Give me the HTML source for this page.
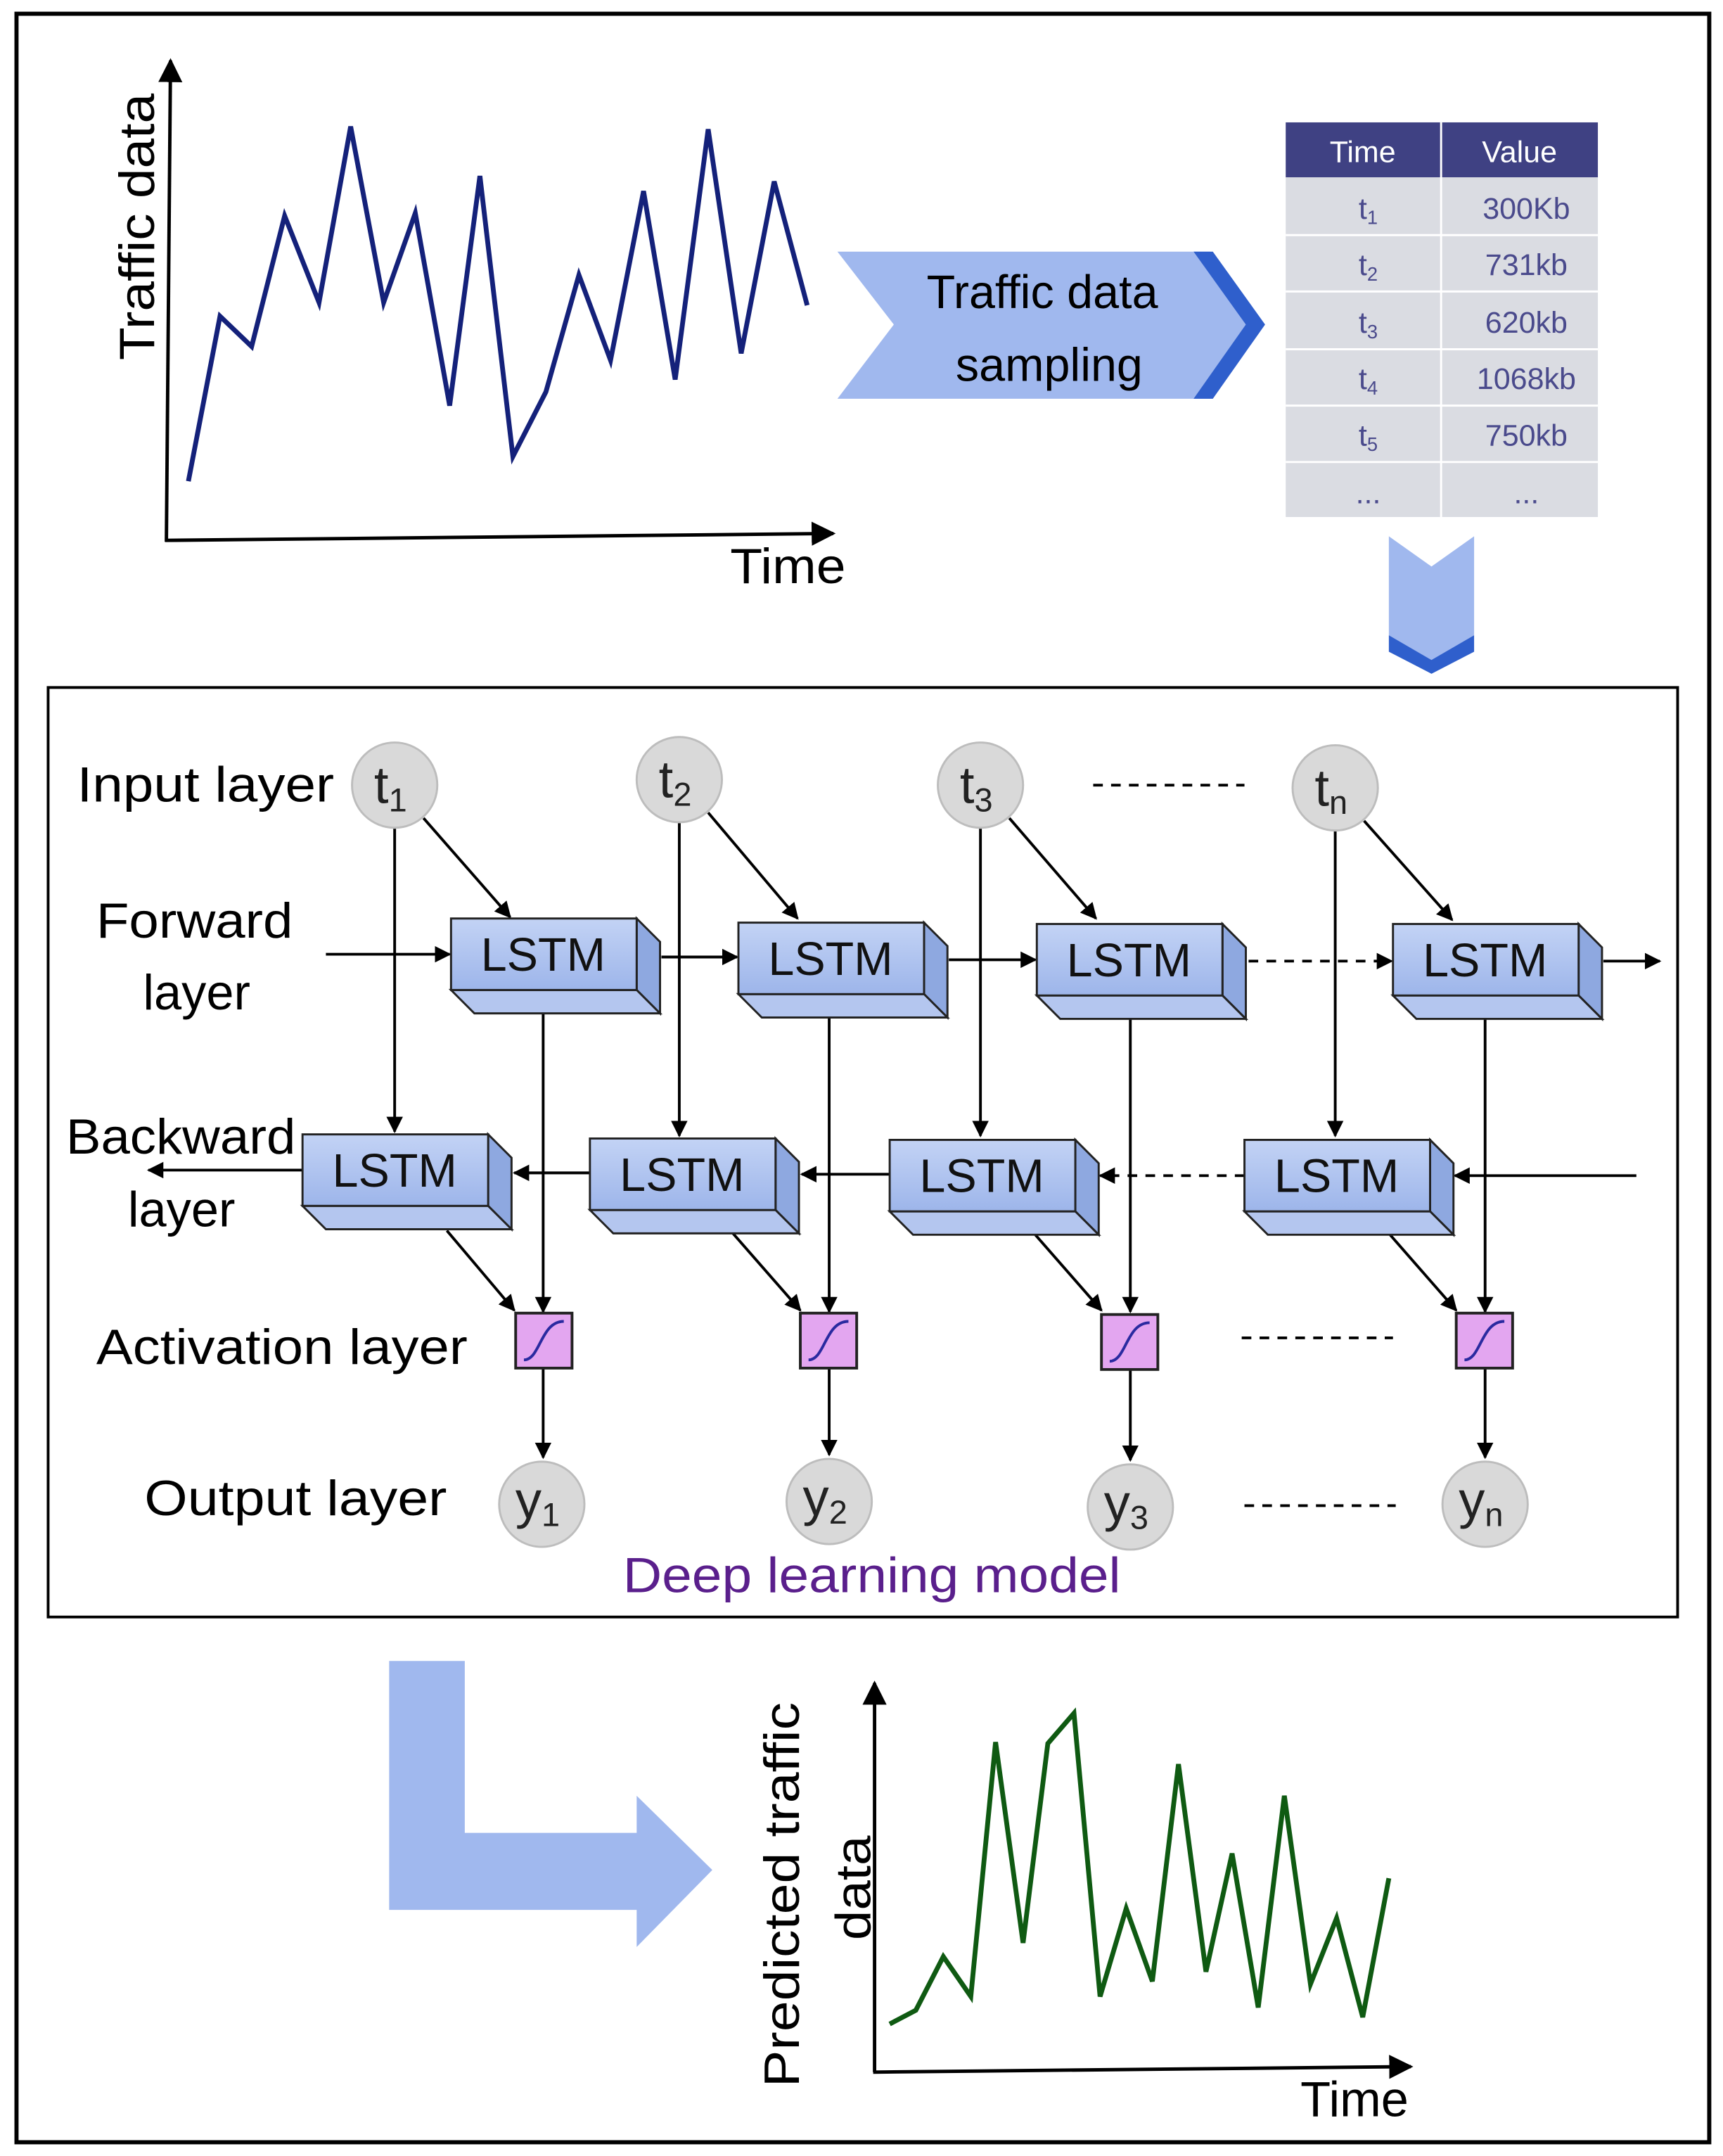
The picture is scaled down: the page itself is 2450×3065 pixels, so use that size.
<!DOCTYPE html>
<html><head><meta charset="utf-8"><style>
html,body{margin:0;padding:0;background:#fff;}
svg{display:block;}
text{font-family:"Liberation Sans","DejaVu Sans",sans-serif;}
</style></head><body>
<svg width="2450" height="3065" viewBox="0 0 1253 1568" preserveAspectRatio="none" xmlns="http://www.w3.org/2000/svg">
<defs>
<marker id="ar" viewBox="0 0 10 10" refX="9" refY="5" markerWidth="7" markerHeight="7" orient="auto-start-reverse"><path d="M0,0 L10,5 L0,10 z" fill="#000"/></marker>
<marker id="arb" viewBox="0 0 10 10" refX="9" refY="5" markerWidth="6" markerHeight="6" orient="auto"><path d="M0,0 L10,5 L0,10 z" fill="#000"/></marker>
<linearGradient id="lg" x1="0" y1="0" x2="0" y2="1"><stop offset="0" stop-color="#c3d3f5"/><stop offset="1" stop-color="#9db5ea"/></linearGradient>
<g id="lstm">
<polygon points="135,0 152,17 152,69 135,52" fill="#8ea8e0" stroke="#222" stroke-width="1.5"/>
<polygon points="0,52 135,52 152,69 17,69" fill="#b4c6ef" stroke="#222" stroke-width="1.5"/>
<rect x="0" y="0" width="135" height="52" fill="url(#lg)" stroke="#222" stroke-width="1.5"/>
<text x="67" y="38" font-size="34" text-anchor="middle" fill="#111">LSTM</text>
</g>
<g id="act">
<rect x="0" y="0" width="41" height="40" fill="#e3a6f0" stroke="#222" stroke-width="2"/>
<path d="M6,34 C18,34 18,6 35,6" fill="none" stroke="#2a2aa0" stroke-width="2"/>
</g>
</defs>
<rect x="12" y="10" width="1231" height="1548" fill="#fff" stroke="#000" stroke-width="3"/>

<line x1="121" y1="394" x2="124" y2="44" stroke="#000" stroke-width="2.5" marker-end="url(#ar)"/>
<line x1="120" y1="393" x2="606" y2="388" stroke="#000" stroke-width="2.5" marker-end="url(#ar)"/>
<polyline fill="none" stroke="#14217a" stroke-width="3.5" points="137,350 160,230 183,252 207,157 232,220 255,92 279,220 302,155 327,295 349,128 373,332 397,285 421,200 444,262 468,139 491,276 515,94 539,257 563,132 587,222"/>
<text transform="translate(112,165) rotate(-90)" font-size="36" text-anchor="middle" textLength="194" lengthAdjust="spacingAndGlyphs">Traffic data</text>
<text x="573" y="424" font-size="36" text-anchor="middle" textLength="84" lengthAdjust="spacingAndGlyphs">Time</text>

<polygon points="609,183 880,183 918,236 880,290 609,290 650,236" fill="#a0b8ee"/>
<polygon points="868,183 882,183 920,236 882,290 868,290 906,236" fill="#2f5fcc"/>
<text x="758" y="224" font-size="34" text-anchor="middle">Traffic data</text>
<text x="763" y="277" font-size="34" text-anchor="middle">sampling</text>

<rect x="935" y="89" width="227" height="40" fill="#3f4183"/>
<rect x="935" y="129" width="227" height="247" fill="#dadce2"/>
<g stroke="#fff" stroke-width="1.5"><line x1="935" y1="171" x2="1162" y2="171"/><line x1="935" y1="212" x2="1162" y2="212"/><line x1="935" y1="254" x2="1162" y2="254"/><line x1="935" y1="295" x2="1162" y2="295"/><line x1="935" y1="336" x2="1162" y2="336"/><line x1="1048" y1="89" x2="1048" y2="376"/></g>
<text x="991" y="118" font-size="22" fill="#fff" text-anchor="middle">Time</text>
<text x="1105" y="118" font-size="22" fill="#fff" text-anchor="middle">Value</text>
<g font-size="22" fill="#4a4a8c" text-anchor="middle">
<text x="995" y="159">t<tspan font-size="14" dy="4">1</tspan></text><text x="1110" y="159">300Kb</text>
<text x="995" y="200">t<tspan font-size="14" dy="4">2</tspan></text><text x="1110" y="200">731kb</text>
<text x="995" y="242">t<tspan font-size="14" dy="4">3</tspan></text><text x="1110" y="242">620kb</text>
<text x="995" y="283">t<tspan font-size="14" dy="4">4</tspan></text><text x="1110" y="283">1068kb</text>
<text x="995" y="324">t<tspan font-size="14" dy="4">5</tspan></text><text x="1110" y="324">750kb</text>
<text x="995" y="366">...</text><text x="1110" y="366">...</text>
</g>

<polygon points="1010,390 1041,412 1072,390 1072,462 1041,482 1010,462" fill="#a0b8ee"/>
<polygon points="1010,462 1041,480 1072,462 1072,474 1041,490 1010,474" fill="#2f5fcc"/>

<rect x="35" y="500" width="1185" height="676" fill="none" stroke="#000" stroke-width="2"/>
<g font-size="36" fill="#000" lengthAdjust="spacingAndGlyphs">
<text x="56" y="583" textLength="187" lengthAdjust="spacingAndGlyphs">Input layer</text>
<text x="70" y="682" textLength="143" lengthAdjust="spacingAndGlyphs">Forward</text><text x="104" y="734">layer</text>
<text x="48" y="839" textLength="167" lengthAdjust="spacingAndGlyphs">Backward</text><text x="93" y="892">layer</text>
<text x="70" y="992" textLength="270" lengthAdjust="spacingAndGlyphs">Activation layer</text>
<text x="105" y="1102" textLength="220" lengthAdjust="spacingAndGlyphs">Output layer</text>
</g>
<text x="453" y="1158" font-size="36" fill="#5a1f8c" textLength="362" lengthAdjust="spacingAndGlyphs">Deep learning model</text>

<g stroke="#000" stroke-width="2" fill="none">
<line x1="287" y1="602" x2="287" y2="823" marker-end="url(#arb)"/>
<line x1="494" y1="598" x2="494" y2="826" marker-end="url(#arb)"/>
<line x1="713" y1="602" x2="713" y2="826" marker-end="url(#arb)"/>
<line x1="971" y1="604" x2="971" y2="826" marker-end="url(#arb)"/>
<line x1="308" y1="595" x2="371" y2="667" marker-end="url(#arb)"/>
<line x1="515" y1="591" x2="580" y2="668" marker-end="url(#arb)"/>
<line x1="734" y1="595" x2="797" y2="668" marker-end="url(#arb)"/>
<line x1="992" y1="597" x2="1056" y2="669" marker-end="url(#arb)"/>
<line x1="237" y1="694" x2="327" y2="694" marker-end="url(#arb)"/>
<line x1="481" y1="696" x2="536" y2="696" marker-end="url(#arb)"/>
<line x1="690" y1="698" x2="753" y2="698" marker-end="url(#arb)"/>
<line x1="908" y1="699" x2="1012" y2="699" stroke-dasharray="7,6" marker-end="url(#arb)"/>
<line x1="1166" y1="699" x2="1207" y2="699" marker-end="url(#arb)"/>
<line x1="1190" y1="855" x2="1058" y2="855" marker-end="url(#arb)"/>
<line x1="905" y1="855" x2="800" y2="855" stroke-dasharray="7,6" marker-end="url(#arb)"/>
<line x1="647" y1="854" x2="583" y2="854" marker-end="url(#arb)"/>
<line x1="429" y1="853" x2="374" y2="853" marker-end="url(#arb)"/>
<line x1="220" y1="851" x2="108" y2="851" marker-end="url(#arb)"/>
<line x1="395" y1="737" x2="395" y2="954" marker-end="url(#arb)"/>
<line x1="603" y1="740" x2="603" y2="954" marker-end="url(#arb)"/>
<line x1="822" y1="740" x2="822" y2="954" marker-end="url(#arb)"/>
<line x1="1080" y1="740" x2="1080" y2="954" marker-end="url(#arb)"/>
<line x1="325" y1="895" x2="374" y2="953" marker-end="url(#arb)"/>
<line x1="533" y1="897" x2="582" y2="953" marker-end="url(#arb)"/>
<line x1="752" y1="897" x2="801" y2="953" marker-end="url(#arb)"/>
<line x1="1010" y1="897" x2="1059" y2="953" marker-end="url(#arb)"/>
<line x1="395" y1="995" x2="395" y2="1060" marker-end="url(#arb)"/>
<line x1="603" y1="995" x2="603" y2="1058" marker-end="url(#arb)"/>
<line x1="822" y1="995" x2="822" y2="1062" marker-end="url(#arb)"/>
<line x1="1080" y1="995" x2="1080" y2="1060" marker-end="url(#arb)"/>
<line x1="795" y1="571" x2="905" y2="571" stroke-dasharray="7,6"/>
<line x1="903" y1="973" x2="1013" y2="973" stroke-dasharray="7,6"/>
<line x1="905" y1="1095" x2="1015" y2="1095" stroke-dasharray="7,6"/>
</g>

<use href="#lstm" x="328" y="668"/><use href="#lstm" x="537" y="671"/><use href="#lstm" x="754" y="672"/><use href="#lstm" x="1013" y="672"/>
<use href="#lstm" x="220" y="825"/><use href="#lstm" x="429" y="828"/><use href="#lstm" x="647" y="829"/><use href="#lstm" x="905" y="829"/>
<use href="#act" x="375" y="955"/><use href="#act" x="582" y="955"/><use href="#act" x="801" y="956"/><use href="#act" x="1059" y="955"/>

<g fill="#d9d9d9" stroke="#bdbdbd" stroke-width="1.5">
<circle cx="287" cy="571" r="31"/><circle cx="494" cy="567" r="31"/><circle cx="713" cy="571" r="31"/><circle cx="971" cy="573" r="31"/>
<circle cx="394" cy="1094" r="31"/><circle cx="603" cy="1092" r="31"/><circle cx="822" cy="1096" r="31"/><circle cx="1080" cy="1094" r="31"/>
</g>
<g font-size="38" fill="#222" text-anchor="middle">
<text x="284" y="584">t<tspan font-size="24" dy="6">1</tspan></text>
<text x="491" y="580">t<tspan font-size="24" dy="6">2</tspan></text>
<text x="710" y="584">t<tspan font-size="24" dy="6">3</tspan></text>
<text x="968" y="586">t<tspan font-size="24" dy="6">n</tspan></text>
<text x="391" y="1104">y<tspan font-size="24" dy="6">1</tspan></text>
<text x="600" y="1102">y<tspan font-size="24" dy="6">2</tspan></text>
<text x="819" y="1106">y<tspan font-size="24" dy="6">3</tspan></text>
<text x="1077" y="1104">y<tspan font-size="24" dy="6">n</tspan></text>
</g>

<polygon points="283,1208 338,1208 338,1333 463,1333 463,1306 518,1360 463,1416 463,1389 283,1389" fill="#a0b8ee"/>

<line x1="636" y1="1507" x2="636" y2="1224" stroke="#000" stroke-width="2.5" marker-end="url(#ar)"/>
<line x1="635" y1="1507" x2="1026" y2="1503" stroke="#000" stroke-width="2.5" marker-end="url(#ar)"/>
<polyline fill="none" stroke="#0f5a12" stroke-width="3.5" points="647,1472 666,1462 686,1423 706,1452 724,1267 744,1413 762,1268 781,1246 800,1452 819,1388 838,1441 857,1283 877,1434 896,1348 915,1460 934,1306 953,1443 972,1395 991,1467 1010,1366"/>
<text transform="translate(581,1378) rotate(-90)" font-size="36" text-anchor="middle" textLength="280" lengthAdjust="spacingAndGlyphs">Predicted traffic</text>
<text transform="translate(633,1373) rotate(-90)" font-size="36" text-anchor="middle" textLength="76" lengthAdjust="spacingAndGlyphs">data</text>
<text x="985" y="1539" font-size="36" text-anchor="middle">Time</text>
</svg>
</body></html>
